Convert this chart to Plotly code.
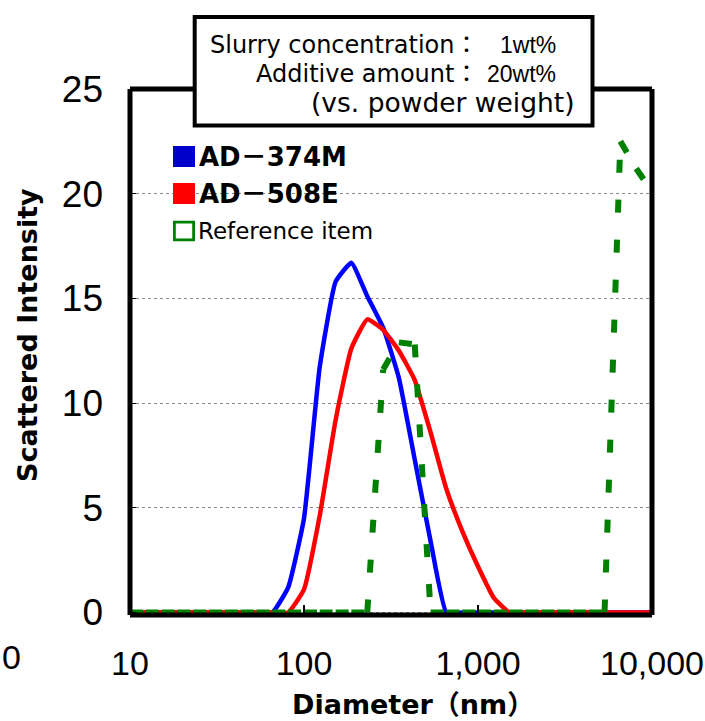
import plotly.graph_objects as go

# ---------------- data ----------------
diameter_nm = [10, 12.3, 15.2, 18.7, 23.1, 28.5, 35.1, 43.3, 53.4, 65.8, 81.1,
               100, 123, 152, 187, 231, 285, 351, 433, 534, 658, 811,
               1000, 1233, 1520, 1874, 2310, 2848, 3511, 4329, 5337, 6579, 8111, 10000]

ad_374m = [0, 0, 0, 0, 0, 0, 0, 0, 0, 0, 1.2,
           4.5, 11.7, 15.8, 16.7, 15.1, 13.6, 11.2, 7.3, 3.4, 0, 0,
           0, 0, 0, 0, 0, 0, 0, 0, 0, 0, 0, 0]

ad_508e = [0, 0, 0, 0, 0, 0, 0, 0, 0, 0, 0,
           1.1, 4.6, 9.2, 12.6, 14.0, 13.5, 12.5, 11.1, 8.6, 5.9, 3.9,
           2.2, 0.7, 0, 0, 0, 0, 0, 0, 0, 0, 0, 0]

reference_item = [0, 0, 0, 0, 0, 0, 0, 0, 0, 0, 0,
                  0, 0, 0, 0, 0, 11.6, 12.9, 12.8, 0, 0, 0,
                  0, 0, 0, 0, 0, 0, 0, 0, 0, 22.5, 21.2, 20.1]

x_tickvals = [10, 100, 1000, 10000]
x_ticktext = ["10", "100", "1,000", "10,000"]
y_tickvals = [0, 5, 10, 15, 20, 25]
y_ticktext = ["0", "5", "10", "15", "20", "25"]

series_names = ["AD－374M", "AD－508E", "Reference item"]
series_colors = ["#0000ff", "#ff0000", "#008000"]
legend_square_colors = ["#0000cc", "#ff0000", "#ffffff"]

box_lines = [("Slurry concentration：", "1wt%"), ("Additive amount：", "20wt%")]
box_note = "(vs. powder weight)"

# ---------------- layout geometry ----------------
W, H = 705, 721
L, T = 130, 89
R = W - 652
B = H - 615
PW, PH = W - L - R, H - T - B


def px(xs):
    """screen x pixel -> paper x"""
    return (xs - L) / PW


def py(ys):
    """screen y pixel -> paper y"""
    return (T + PH - ys) / PH


Y_TICK_FONT = dict(family="Liberation Sans, Arial, sans-serif", size=37, color="black")
X_TICK_FONT = dict(family="Liberation Sans, Arial, sans-serif", size=34, color="black")
TEXT_FONT = "DejaVu Sans, Noto Sans CJK JP, sans-serif"

fig = go.Figure()

fig.add_trace(go.Scatter(x=diameter_nm, y=ad_374m, mode="lines", name=series_names[0],
                         line=dict(color=series_colors[0], width=4.5, shape="spline", smoothing=0.4),
                         showlegend=False, hoverinfo="skip"))
fig.add_trace(go.Scatter(x=diameter_nm, y=ad_508e, mode="lines", name=series_names[1],
                         line=dict(color=series_colors[1], width=4.5, shape="spline", smoothing=0.4),
                         showlegend=False, hoverinfo="skip"))

# dashed reference line: each segment its own sub-path so the dash restarts per segment
gx, gy = [], []
for i in range(len(diameter_nm) - 1):
    gx += [diameter_nm[i], diameter_nm[i + 1], None]
    gy += [reference_item[i], reference_item[i + 1], None]
fig.add_trace(go.Scatter(x=gx, y=gy, mode="lines", name=series_names[2], connectgaps=False,
                         line=dict(color=series_colors[2], width=6, dash="13px,27px"),
                         showlegend=False, hoverinfo="skip"))

shapes = []
# legend white background (covers gridline)
shapes.append(dict(type="rect", xref="paper", yref="paper", layer="between",
                   x0=px(150), x1=px(464), y0=py(252), y1=py(132),
                   fillcolor="white", line=dict(width=0)))
# frame
for (x0, y0, x1, y1) in [(0, 0, 0, 1), (1, 0, 1, 1), (0, 0, 1, 0), (0, 1, 1, 1)]:
    shapes.append(dict(type="line", xref="paper", yref="paper", layer="above",
                       x0=x0, y0=y0, x1=x1, y1=y1, line=dict(color="black", width=5)))
# condition box
shapes.append(dict(type="rect", xref="paper", yref="paper", layer="above",
                   x0=px(194.7), x1=px(592.5), y0=py(125.5), y1=py(17),
                   fillcolor="white", line=dict(color="black", width=4)))
# legend squares
sq_rows = [156.5, 193.5, 231]
for i, yc in enumerate(sq_rows):
    if i < 2:
        shapes.append(dict(type="rect", xref="paper", yref="paper", layer="above",
                           x0=px(173), x1=px(195), y0=py(yc + 10.5), y1=py(yc - 10.5),
                           fillcolor=legend_square_colors[i], line=dict(width=0)))
    else:
        shapes.append(dict(type="rect", xref="paper", yref="paper", layer="above",
                           x0=px(174.4), x1=px(193.6), y0=py(yc + 8.8), y1=py(yc - 8.8),
                           fillcolor="white", line=dict(color=series_colors[2], width=2.8)))

annotations = []
# legend texts
annotations.append(dict(text=series_names[0], x=px(197), y=py(157), xanchor="left", yanchor="middle",
                        font=dict(family=TEXT_FONT, size=26, color="black", weight="bold")))
annotations.append(dict(text=series_names[1], x=px(197), y=py(194), xanchor="left", yanchor="middle",
                        font=dict(family=TEXT_FONT, size=26, color="black", weight="bold")))
annotations.append(dict(text=series_names[2], x=px(196), y=py(231), xanchor="left", yanchor="middle",
                        font=dict(family=TEXT_FONT, size=23, color="black")))
# condition box texts
row_y = [45, 74.5]
for (lab, val), yc in zip(box_lines, row_y):
    annotations.append(dict(text=lab, x=px(480), y=py(yc), xanchor="right", yanchor="middle",
                            font=dict(family=TEXT_FONT, size=24, color="black")))
    annotations.append(dict(text=val, x=px(558), y=py(yc), xanchor="right", yanchor="middle",
                            font=dict(family="Liberation Sans, Arial, sans-serif",
                                      size=23, color="black")))
annotations.append(dict(text=box_note, x=px(577), y=py(102), xanchor="right", yanchor="middle",
                        font=dict(family=TEXT_FONT, size=26.5, color="black")))
# axis titles
annotations.append(dict(text="Scattered Intensity", x=px(27), y=py(335), xanchor="center", yanchor="middle",
                        textangle=-90, font=dict(family=TEXT_FONT, size=27, color="black", weight="bold")))
annotations.append(dict(text="Diameter（nm）", x=px(290), y=py(704), xanchor="left", yanchor="middle",
                        font=dict(family=TEXT_FONT, size=27, color="black", weight="bold")))
# stray clipped label at far left
annotations.append(dict(text="0", x=px(11), y=py(657), xanchor="center", yanchor="middle",
                        font=X_TICK_FONT))
for a in annotations:
    a.update(xref="paper", yref="paper", showarrow=False)

fig.update_layout(
    width=W, height=H, autosize=False,
    margin=dict(l=L, r=R, t=T, b=B, pad=0, autoexpand=False),
    paper_bgcolor="white", plot_bgcolor="white",
    showlegend=False, hovermode=False,
    shapes=shapes, annotations=annotations,
    xaxis=dict(type="log", range=[1 - 1e-6, 4 + 1e-6], tickvals=x_tickvals, ticktext=x_ticktext,
               showgrid=False, zeroline=False, showline=False, automargin=False,
               ticks="inside", ticklen=10, tickwidth=1.5, tickcolor="black",
               tickfont=X_TICK_FONT, ticklabelstandoff=25, ticklabeloverflow="allow"),
    yaxis=dict(range=[-0.12, 25], tickvals=y_tickvals, ticktext=y_ticktext,
               showgrid=True, gridcolor="#8a8a8a", gridwidth=1, griddash="dot",
               zeroline=False, showline=False, automargin=False,
               ticks="inside", ticklen=6, tickwidth=1, tickcolor="black",
               tickfont=Y_TICK_FONT, ticklabelstandoff=26),
)

fig.write_html("out.html", config={"displayModeBar": False},
               post_script="document.body.style.margin='0';")
